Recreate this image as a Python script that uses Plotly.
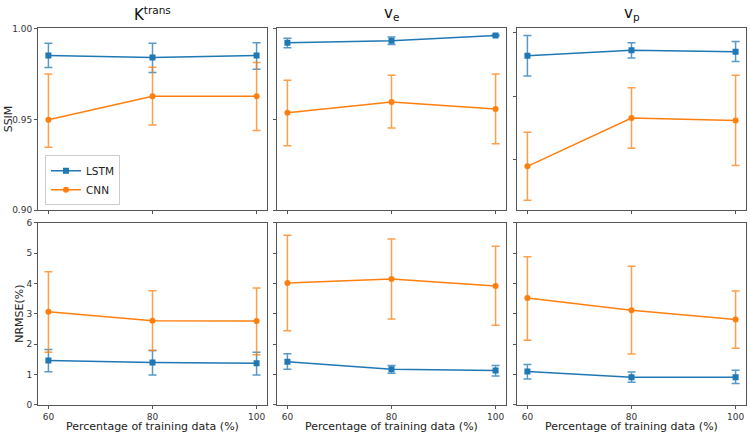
import plotly.graph_objects as go

# ---------------- data ----------------
train_pct = [60, 80, 100]
panel_titles = ["K<sup>trans</sup>", "v<sub>e</sub>", "v<sub>p</sub>"]

# SSIM (top row)
ssim_lstm = [[0.9851, 0.9840, 0.9851], [0.9921, 0.9933, 0.9961], [0.9909, 0.9931, 0.9925]]
ssim_lstm_hi = [[0.9919, 0.9918, 0.9921], [0.9946, 0.9953, 0.9965], [0.9989, 0.9960, 0.9965]]
ssim_lstm_lo = [[0.9785, 0.9758, 0.9776], [0.9894, 0.9912, 0.9958], [0.9829, 0.9900, 0.9886]]
ssim_cnn = [[0.9498, 0.9627, 0.9627], [0.9536, 0.9595, 0.9557], [0.9474, 0.9664, 0.9654]]
ssim_cnn_hi = [[0.9749, 0.9787, 0.9813], [0.9715, 0.9742, 0.9749], [0.9608, 0.9783, 0.9832]]
ssim_cnn_lo = [[0.9346, 0.9469, 0.9439], [0.9355, 0.9452, 0.9366], [0.9340, 0.9545, 0.9477]]

# NRMSE (%) (bottom row)
nrmse_lstm = [[1.46, 1.39, 1.37], [1.42, 1.17, 1.13], [1.10, 0.91, 0.91]]
nrmse_lstm_hi = [[1.82, 1.79, 1.73], [1.68, 1.29, 1.29], [1.33, 1.08, 1.14]]
nrmse_lstm_lo = [[1.09, 0.98, 0.98], [1.17, 1.04, 0.95], [0.85, 0.74, 0.70]]
nrmse_cnn = [[3.07, 2.77, 2.76], [4.02, 4.15, 3.92], [3.52, 3.12, 2.81]]
nrmse_cnn_hi = [[4.39, 3.76, 3.85], [5.59, 5.47, 5.23], [4.88, 4.57, 3.75]]
nrmse_cnn_lo = [[1.73, 1.79, 1.65], [2.44, 2.83, 2.62], [2.13, 1.67, 1.86]]

ssim_ticks = [0.90, 0.95, 1.00]
ssim_ticks_vp = [0.95, 0.975, 1.0]
nrmse_ticks = [0, 1, 2, 3, 4, 5, 6]

BLUE = "#1f77b4"
ORANGE = "#ff7f0e"
BLUE_E = "rgba(31,119,180,0.75)"
ORANGE_E = "rgba(255,127,14,0.75)"

fig = go.Figure()

W, H = 750, 440
xdom = [(38, 267), (277, 506), (517, 746)]
ydom = [(24, 210), (223, 409)]


def add_series(row, col, y, hi, lo, name, color, ecolor, symbol, show):
    idx = row * 3 + col + 1
    fig.add_trace(go.Scatter(
        x=train_pct, y=y, name=name, mode="lines+markers",
        line=dict(color=color, width=1.5),
        marker=dict(symbol=symbol, size=6, color=color),
        error_y=dict(type="data", symmetric=False,
                     array=[h - v for h, v in zip(hi, y)],
                     arrayminus=[v - l for v, l in zip(y, lo)],
                     color=ecolor, thickness=1.5, width=4),
        xaxis="x" + (str(idx) if idx > 1 else ""),
        yaxis="y" + (str(idx) if idx > 1 else ""),
        showlegend=show, legendgroup=name,
    ))


for c in range(3):
    add_series(0, c, ssim_lstm[c], ssim_lstm_hi[c], ssim_lstm_lo[c], "LSTM", BLUE, BLUE_E, "square", c == 0)
    add_series(0, c, ssim_cnn[c], ssim_cnn_hi[c], ssim_cnn_lo[c], "CNN", ORANGE, ORANGE_E, "circle", c == 0)
    add_series(1, c, nrmse_lstm[c], nrmse_lstm_hi[c], nrmse_lstm_lo[c], "LSTM", BLUE, BLUE_E, "square", False)
    add_series(1, c, nrmse_cnn[c], nrmse_cnn_hi[c], nrmse_cnn_lo[c], "CNN", ORANGE, ORANGE_E, "circle", False)

axis_common = dict(showline=True, mirror=True, linecolor="#555", linewidth=1,
                   ticks="outside", ticklen=3, tickcolor="#555",
                   showgrid=False, zeroline=False,
                   tickfont=dict(family="DejaVu Sans", size=9, color="#333"))

layout = {}
for r in range(2):
    for c in range(3):
        idx = r * 3 + c + 1
        sfx = str(idx) if idx > 1 else ""
        x0, x1 = xdom[c]
        y0, y1 = ydom[r]
        layout["xaxis" + sfx] = dict(
            axis_common, domain=[x0 / W, x1 / W], range=[58, 102],
            tickvals=train_pct, ticktext=[str(v) for v in train_pct],
            showticklabels=(r == 1), anchor="y" + sfx)
        if r == 0:
            if c == 2:
                yr = [0.93012, 1.00165]
                tv = ssim_ticks_vp
            else:
                yr = [0.90, 1.00]
                tv = ssim_ticks
            tt = ["%.2f" % v for v in tv]
        else:
            yr = [0, 6]
            tv = nrmse_ticks
            tt = [str(v) for v in tv]
        layout["yaxis" + sfx] = dict(
            axis_common, domain=[1 - y1 / H, 1 - y0 / H], range=yr,
            tickvals=tv, ticktext=tt, showticklabels=(c == 0), anchor="x" + sfx)

fig.update_layout(**layout)

annotations = []
for c in range(3):
    x0, x1 = xdom[c]
    annotations.append(dict(text=panel_titles[c], x=(x0 + x1) / 2 / W, y=1 - 9 / H,
                            xref="paper", yref="paper", showarrow=False,
                            xanchor="center", yanchor="middle",
                            font=dict(family="DejaVu Sans", size=15, color="#111")))
    annotations.append(dict(text="Percentage of training data (%)", x=(x0 + x1) / 2 / W,
                            y=1 - 431 / H, xref="paper", yref="paper", showarrow=False,
                            xanchor="center", yanchor="middle",
                            font=dict(family="DejaVu Sans", size=11, color="#222")))
annotations.append(dict(text="SSIM", x=8 / W, y=1 - 117 / H, xref="paper", yref="paper",
                        showarrow=False, textangle=-90, xanchor="center", yanchor="middle",
                        font=dict(family="DejaVu Sans", size=11, color="#222")))
annotations.append(dict(text="NRMSE(%)", x=20 / W, y=1 - 316 / H, xref="paper", yref="paper",
                        showarrow=False, textangle=-90, xanchor="center", yanchor="middle",
                        font=dict(family="DejaVu Sans", size=11, color="#222")))

fig.update_layout(
    width=W, height=H, margin=dict(l=0, r=0, t=0, b=0),
    paper_bgcolor="white", plot_bgcolor="white",
    annotations=annotations,
    legend=dict(x=45 / W, y=1 - 205 / H, xanchor="left", yanchor="bottom",
                bgcolor="rgba(255,255,255,0.8)", bordercolor="#ccc", borderwidth=1,
                font=dict(family="DejaVu Sans", size=10.5, color="#222"),
                tracegroupgap=0, itemwidth=30),
)

fig.write_html("out.html", config={"displayModeBar": False},
               post_script="document.body.style.margin='0';")
